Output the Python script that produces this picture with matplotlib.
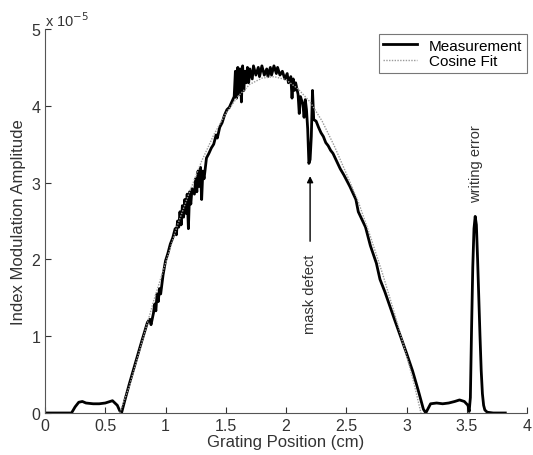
import matplotlib
matplotlib.use("Agg")
import matplotlib.pyplot as plt

plt.rcParams['font.family'] = ['Liberation Sans', 'DejaVu Sans']

# Measurement (units of 1e-5)
meas_x = [0.00, 0.22, 0.25, 0.28, 0.31, 0.34, 0.40, 0.45, 0.50, 0.54, 0.56, 0.58, 0.60, 0.62, 0.635,
          0.66, 0.70, 0.75, 0.80, 0.85, 0.87, 0.88, 0.90, 0.91, 0.92, 0.93, 0.94, 0.95, 0.96, 0.98,
          1.00, 1.02, 1.04, 1.06, 1.08, 1.09, 1.10, 1.11, 1.12, 1.13, 1.14, 1.15, 1.16, 1.17, 1.18,
          1.19, 1.20, 1.21, 1.22, 1.24, 1.25, 1.26, 1.27, 1.28, 1.29, 1.30, 1.31, 1.32, 1.34, 1.36,
          1.38, 1.40, 1.42, 1.43, 1.45, 1.47, 1.49, 1.51, 1.53, 1.55, 1.57, 1.58, 1.59, 1.60, 1.61,
          1.62, 1.63, 1.64, 1.65, 1.66, 1.67, 1.68, 1.69, 1.70, 1.72, 1.73, 1.75, 1.77, 1.78, 1.80,
          1.82, 1.84, 1.85, 1.87, 1.88, 1.90, 1.92, 1.93, 1.95, 1.97, 1.99, 2.01, 2.02, 2.04, 2.05,
          2.06, 2.07, 2.08, 2.10, 2.11, 2.12, 2.14, 2.15, 2.16, 2.17, 2.18, 2.19, 2.20, 2.21, 2.22,
          2.23, 2.25, 2.27, 2.29, 2.31, 2.33, 2.35, 2.37, 2.39, 2.42, 2.45, 2.48, 2.50, 2.53, 2.56,
          2.58, 2.60, 2.63, 2.66, 2.70, 2.75, 2.78, 2.82, 2.86, 2.90, 2.95, 3.00, 3.05, 3.10, 3.14,
          3.16, 3.18, 3.20, 3.25, 3.30, 3.35, 3.40, 3.44, 3.48, 3.51, 3.52, 3.53, 3.54, 3.55, 3.56,
          3.57, 3.58, 3.59, 3.60, 3.61, 3.62, 3.63, 3.64, 3.65, 3.67, 3.72, 3.82]
meas_y = [0.00, 0.00, 0.08, 0.14, 0.15, 0.13, 0.12, 0.12, 0.13, 0.15, 0.16, 0.13, 0.10, 0.03, 0.00,
          0.15, 0.38, 0.65, 0.92, 1.18, 1.22, 1.15, 1.30, 1.42, 1.33, 1.55, 1.45, 1.62, 1.55, 1.80,
          1.98, 2.08, 2.20, 2.28, 2.40, 2.32, 2.50, 2.42, 2.62, 2.45, 2.70, 2.55, 2.78, 2.60, 2.85,
          2.40, 2.88, 2.72, 2.92, 2.85, 3.05, 2.88, 3.15, 2.95, 3.20, 2.78, 3.15, 3.05, 3.32, 3.38,
          3.45, 3.50, 3.62, 3.58, 3.72, 3.78, 3.88, 3.95, 3.98, 4.05, 4.12, 4.45, 4.10, 4.50, 4.15,
          4.48, 4.05, 4.52, 4.20, 4.45, 4.30, 4.50, 4.30, 4.48, 4.35, 4.52, 4.40, 4.50, 4.38, 4.52,
          4.40, 4.48, 4.38, 4.50, 4.40, 4.52, 4.42, 4.50, 4.40, 4.45, 4.35, 4.42, 4.30, 4.38, 4.10,
          4.35, 4.20, 4.30, 4.15, 3.90, 4.12, 4.02, 3.85, 4.08, 3.95, 3.70, 3.25, 3.30, 3.60, 4.20,
          3.82, 3.80, 3.72, 3.65, 3.60, 3.52, 3.48, 3.42, 3.38, 3.28, 3.18, 3.10, 3.04, 2.95, 2.85,
          2.78, 2.62, 2.52, 2.42, 2.18, 1.95, 1.74, 1.58, 1.40, 1.22, 1.00, 0.78, 0.55, 0.28, 0.05,
          0.00, 0.06, 0.12, 0.13, 0.12, 0.13, 0.15, 0.17, 0.15, 0.10, 0.02, 0.20, 1.10, 1.90, 2.40,
          2.56, 2.45, 2.00, 1.50, 1.00, 0.55, 0.25, 0.10, 0.04, 0.01, 0.00, 0.00]

# Cosine fit (units of 1e-5)
fit_x = [0.62, 0.70, 0.80, 0.90, 1.00, 1.10, 1.20, 1.30, 1.40, 1.50, 1.60, 1.70, 1.80, 1.90,
         2.00, 2.10, 2.20, 2.30, 2.40, 2.50, 2.60, 2.70, 2.80, 2.90, 3.00, 3.06, 3.12]
fit_y = [0.00, 0.35, 0.90, 1.45, 1.95, 2.45, 2.88, 3.28, 3.62, 3.90, 4.12, 4.28, 4.36, 4.38,
         4.34, 4.22, 4.05, 3.80, 3.48, 3.12, 2.75, 2.30, 1.82, 1.30, 0.75, 0.40, 0.00]

xticks = [0, 0.5, 1, 1.5, 2, 2.5, 3, 3.5, 4]
xticklabels = ['0', '0.5', '1', '1.5', '2', '2.5', '3', '3.5', '4']
yticks = [0, 1, 2, 3, 4, 5]
yticklabels = ['0', '1', '2', '3', '4', '5']

fig = plt.figure(figsize=(5.33, 4.56), dpi=100)
ax = fig.add_axes([45/533, 42/456, 482/533, 384/456])

ax.plot(fit_x, fit_y, color='#9a9a9a', lw=1.0, ls=(0, (1, 1)), label='Cosine Fit', zorder=3)
ax.plot(meas_x, meas_y, color='black', lw=2.0, label='Measurement', zorder=2)

ax.set_xlim(0, 4)
ax.set_ylim(0, 5)
ax.set_xticks(xticks)
ax.set_xticklabels(xticklabels)
ax.set_yticks(yticks)
ax.set_yticklabels(yticklabels)
ax.tick_params(direction='in', length=4, labelsize=11.5, colors='#333333', width=0.8)
for s in ['top', 'right']:
    ax.spines[s].set_visible(False)
for s in ['left', 'bottom']:
    ax.spines[s].set_color('#555555')
    ax.spines[s].set_linewidth(0.8)

ax.set_xlabel('Grating Position (cm)', fontsize=12, color='#333333', labelpad=1)
ax.set_ylabel('Index Modulation Amplitude', fontsize=12, color='#333333', labelpad=4)

ax.text(0.0, 1.0, r'x 10$^{-5}$', transform=ax.transAxes, fontsize=10.5, color='#333333',
        ha='left', va='bottom')

# annotations
ax.annotate('', xy=(2.2, 3.12), xytext=(2.2, 2.2),
            arrowprops=dict(arrowstyle='-|>', color='black', lw=1.0, mutation_scale=9))
ax.text(2.2, 2.08, 'mask defect', rotation=90, ha='center', va='top', fontsize=10.5, color='#333333')
ax.text(3.58, 2.75, 'writing error', rotation=90, ha='center', va='bottom', fontsize=10.5, color='#333333')

handles, labels = ax.get_legend_handles_labels()
leg = ax.legend(handles[::-1], labels[::-1], loc='upper right', bbox_to_anchor=(1.0, 0.987),
                fancybox=False, edgecolor='#777777', fontsize=11, borderaxespad=0,
                handlelength=2.2, labelspacing=0.1, borderpad=0.3, framealpha=1)
leg.get_frame().set_linewidth(0.8)

fig.savefig('out.png', dpi=100)
